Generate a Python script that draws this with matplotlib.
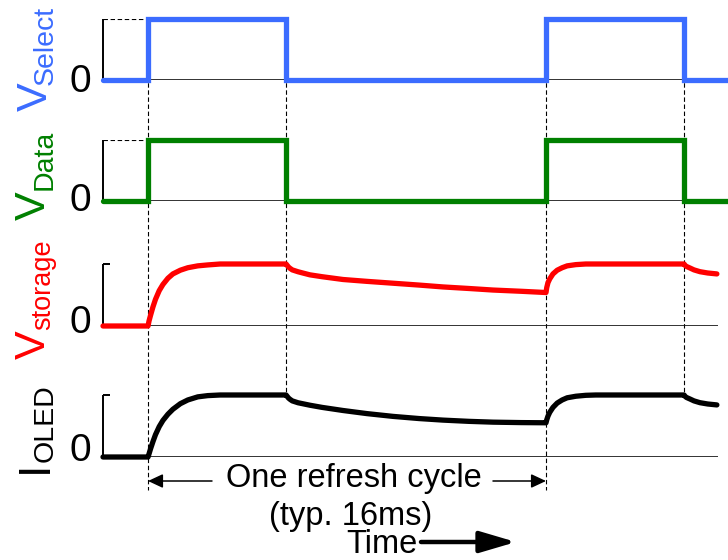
import matplotlib
matplotlib.use("Agg")
import matplotlib.pyplot as plt
from matplotlib.patches import FancyArrowPatch

plt.rcParams['font.family'] = ['Liberation Sans', 'DejaVu Sans']
plt.rcParams['lines.scale_dashes'] = False

# ---- time axis (ms) ----
t_left, t_right = -1.81, 22.915
t_end_pulse = 23.3

# ---- square-wave drive signals (normalised level) ----
select_t = [t_left, 0, 0, 5.55, 5.55, 16, 16, 21.55, 21.55, t_end_pulse]
select_v = [0, 0, 1, 1, 0, 0, 1, 1, 0, 0]
data_t = [t_left, 0, 0, 5.55, 5.55, 16, 16, 21.55, 21.55, t_end_pulse]
data_v = [0, 0, 1, 1, 0, 0, 1, 1, 0, 0]

# ---- storage-capacitor voltage ----
storage_t = [t_left, 0, 0.04, 0.1, 0.2, 0.3, 0.45, 0.6, 0.8, 1.0, 1.3, 1.6, 2.0, 2.4, 2.9,
             5.55, 5.6, 5.65, 5.71, 5.8, 6.03, 6.2, 6.51, 7.0, 7.84, 8.8, 9.85, 10.9, 11.86,
             12.9, 13.87, 15.0, 16.0,
             16.03, 16.08, 16.15, 16.28, 16.45, 16.65, 16.85, 17.2, 17.6,
             21.55, 21.6, 21.65, 21.79, 21.95, 22.19, 22.5, 22.87]
storage_v = [0, 0, 0.08, 0.17, 0.31, 0.43, 0.57, 0.67, 0.77, 0.84, 0.9, 0.94, 0.97, 0.985, 1.0,
             1.0, 0.975, 0.95, 0.93, 0.905, 0.875, 0.857, 0.825, 0.795, 0.75, 0.72, 0.69, 0.66, 0.63,
             0.605, 0.58, 0.56, 0.54,
             0.62, 0.70, 0.76, 0.84, 0.90, 0.94, 0.97, 0.99, 1.0,
             1.0, 0.975, 0.96, 0.935, 0.905, 0.876, 0.855, 0.84]

# ---- OLED current ----
oled_t = [t_left, 0, 0.04, 0.1, 0.2, 0.3, 0.45, 0.6, 0.8, 1.0, 1.3, 1.6, 2.0, 2.4, 2.9,
          5.55, 5.6, 5.65, 5.71, 5.8, 6.03, 6.51, 7.0, 7.84, 8.8, 9.85, 10.9, 11.86,
          12.9, 13.87, 15.0, 16.0,
          16.03, 16.08, 16.15, 16.28, 16.45, 16.65, 16.85, 17.2, 17.6, 18.0,
          21.55, 21.6, 21.65, 21.79, 21.95, 22.19, 22.5, 22.87]
oled_v = [0, 0, 0.05, 0.13, 0.25, 0.36, 0.49, 0.59, 0.69, 0.77, 0.86, 0.92, 0.97, 0.99, 1.0,
          1.0, 0.975, 0.95, 0.93, 0.905, 0.875, 0.835, 0.8, 0.75, 0.70, 0.655, 0.62, 0.595,
          0.575, 0.562, 0.555, 0.552,
          0.6, 0.66, 0.72, 0.8, 0.87, 0.92, 0.955, 0.98, 0.995, 1.0,
          1.0, 0.975, 0.96, 0.935, 0.905, 0.876, 0.855, 0.84]

# pulse edges used for the guide lines
refresh_start, select_end, refresh_end, select_end2 = 0, 5.55, 16, 21.55

BLUE, GREEN, RED, BLACK = '#3B6CFF', '#008000', '#FF0000', '#000000'

W, H = 728, 560
fig = plt.figure(figsize=(W / 100, H / 100), dpi=100)


def px_rect(x0, y_top, x1, y_bot):
    return [x0 / W, 1 - y_bot / H, (x1 - x0) / W, (y_bot - y_top) / H]


# overlay axes for guides/annotations (y measured downward from the top)
ov = fig.add_axes(px_rect(103, 0, 718, H))
ov.set_xlim(t_left, t_right)
ov.set_ylim(H, 0)
ov.axis('off')

dash_kw = dict(color='black', lw=0.8, dashes=(3.2, 1.9))
for tx in (refresh_start, refresh_end):
    ov.plot([tx, tx], [19, 490], **dash_kw, zorder=1)
for tx in (select_end, select_end2):
    ov.plot([tx, tx], [19, 395], **dash_kw, zorder=1)

rows = [
    # (t, v, colour, baseline_px, high_px, dashed top, square wave)
    (select_t, select_v, BLUE, 80, 19, True, True),
    (data_t, data_v, GREEN, 201, 139.5, True, True),
    (storage_t, storage_v, RED, 326, 264, False, False),
    (oled_t, oled_v, BLACK, 457, 395, False, False),
]

for t, v, col, ybase, ytop, dashed_top, square in rows:
    ax = fig.add_axes(px_rect(103, ytop, 718, ybase))
    ax.set_xlim(t_left, t_right)
    ax.set_ylim(0, 1)
    ax.axis('off')
    ax.patch.set_alpha(0)
    ax.axhline(0, color='#111111', lw=1.2, zorder=2)
    ax.plot([t_left, t_left], [0, 1], color='black', lw=1.4, zorder=2,
            solid_capstyle='butt', clip_on=False)
    if dashed_top:
        ax.plot([t_left, refresh_start], [1, 1], **dash_kw, zorder=2)
    else:
        ax.plot([t_left, t_left + 0.3], [1, 1], color='black', lw=1.4, zorder=2,
                solid_capstyle='butt', clip_on=False)
    ax.plot(t, v, color=col, lw=3.8, zorder=3, clip_on=False,
            solid_joinstyle='miter' if square else 'round',
            solid_capstyle='round')


def ftext(x, y, s, **kw):
    fig.text(x / W, 1 - y / H, s, **kw)


rot_kw = dict(rotation=90, rotation_mode='anchor', ha='left', va='baseline')
# rotated signal names
ftext(47, 111, 'V', color=BLUE, fontsize=31, **rot_kw)
ftext(53, 85, 'Select', color=BLUE, fontsize=20.5, **rot_kw)
ftext(45, 220, 'V', color=GREEN, fontsize=31, **rot_kw)
ftext(52, 190, 'Data', color=GREEN, fontsize=20.5, **rot_kw)
ftext(45, 359, 'V', color=RED, fontsize=31, **rot_kw)
ftext(50, 330, 'storage', color=RED, fontsize=19.5, **rot_kw)
ftext(47, 473, 'I', color=BLACK, fontsize=32, **rot_kw)
ftext(53, 462, 'OLED', color=BLACK, fontsize=20.5, **rot_kw)

# zero labels
for yb in (92, 211, 333, 461):
    ftext(91, yb, '0', fontsize=28, ha='right', va='baseline')

# refresh-cycle annotation
ftext(354, 487, 'One refresh cycle', fontsize=23.5, ha='center', va='baseline')
ftext(351, 525, '(typ. 16ms)', fontsize=23.5, ha='center', va='baseline')
ftext(382, 553, 'Time', fontsize=23.5, ha='center', va='baseline')

thin_arrow = '-|>,head_length=9,head_width=4.2'
left_start = t_left + (212 - 103) / 24.875
right_start = t_left + (493 - 103) / 24.875
for xa, xb in ((left_start, refresh_start), (right_start, refresh_end)):
    ov.add_patch(FancyArrowPatch((xa, 481), (xb, 481), arrowstyle=thin_arrow,
                                 mutation_scale=1, color='black', lw=1.1,
                                 shrinkA=0, shrinkB=0))

time_a = t_left + (421 - 103) / 24.875
time_b = t_left + (516 - 103) / 24.875
ov.add_patch(FancyArrowPatch((time_a, 542), (time_b, 542),
                             arrowstyle='-|>,head_length=22,head_width=6.5',
                             mutation_scale=1, color='black', lw=3.2,
                             shrinkA=0, shrinkB=0, clip_on=False))

fig.savefig('out.png', dpi=100)
